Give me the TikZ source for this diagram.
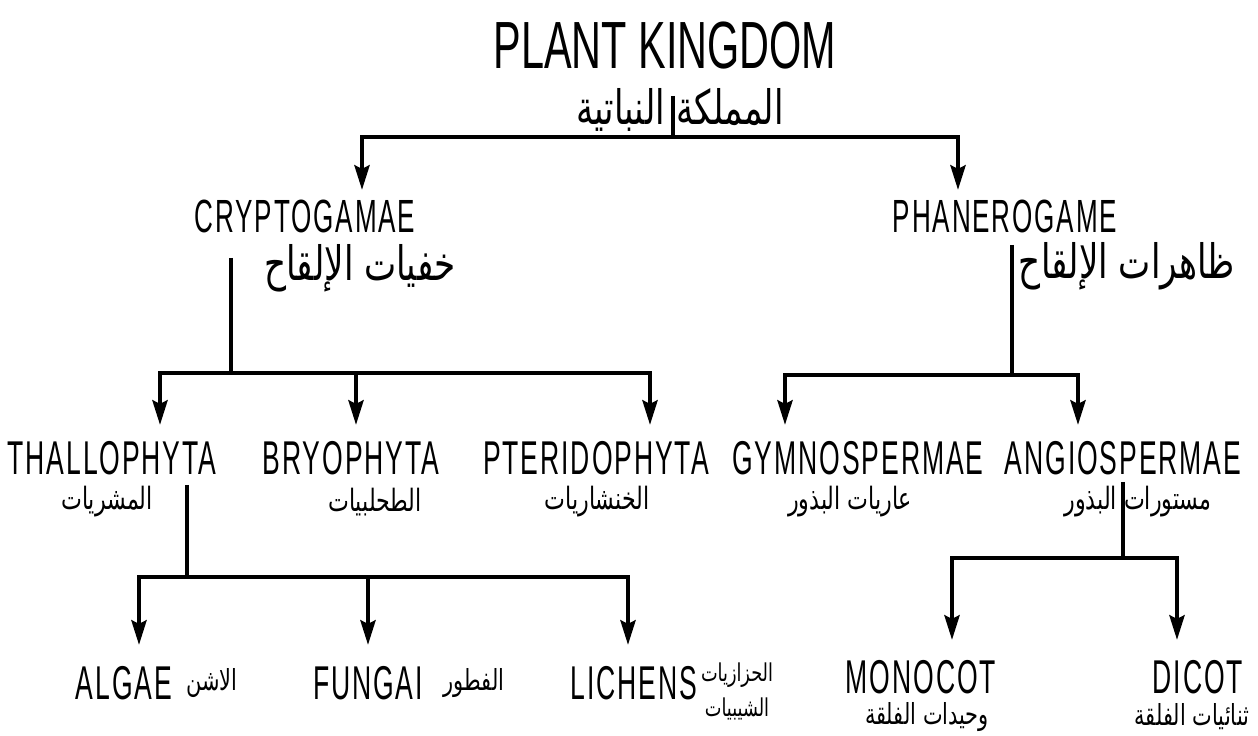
\documentclass[tikz,border=0pt]{standalone}
\usepackage{fontspec}
\usepackage{tikz}
\usetikzlibrary{arrows.meta,positioning}
\TeXXeTstate=1
\newfontfamily\ttlfont[FakeStretch=0.62]{Liberation Sans}
\newfontfamily\latfont[FakeStretch=0.56,LetterSpace=4]{Liberation Sans}
\newfontfamily\arabicfont[Script=Arabic,FakeStretch=0.72]{DejaVu Sans}
\tikzset{
  ttl/.style={font=\ttlfont\fontsize{38}{40}\selectfont,inner sep=0pt},
  lat/.style={font=\latfont\fontsize{26.5}{28}\selectfont,inner sep=0pt},
  latbig/.style={font=\latfont\fontsize{27}{29}\selectfont,inner sep=0pt},
  arbbig/.style={font=\arabicfont\fontsize{27}{29}\selectfont,inner sep=0pt},
  arb/.style={font=\arabicfont\fontsize{17.5}{19}\selectfont,inner sep=0pt},
  arbsmall/.style={font=\arabicfont\fontsize{16.5}{18}\selectfont,inner sep=0pt},
  arbtiny/.style={font=\arabicfont\fontsize{14}{15}\selectfont,inner sep=0pt,
                  text height=10pt,text depth=3pt},
  stem/.style={line width=2.5pt},
  arr/.style={line width=2.5pt,-{Stealth[length=14pt,width=8.5pt,inset=2pt]}},
}
\begin{document}
\begin{tikzpicture}[x=0.02cm,y=-0.02cm]
  \useasboundingbox (0,0) rectangle (1258,736);
  % top level
  \node[ttl](title) at (665,46) {PLANT KINGDOM};
  \node[arbbig](titlear) at (680,110) {\beginR المملكة النباتية\endR};
  \node[lat](crypto) at (305,216) {CRYPTOGAMAE};
  \node[arbbig](cryptoar) at (360,268) {\beginR خفيات الإلقاح\endR};
  \node[lat](phanero) at (1005,216) {PHANEROGAME};
  \node[arbbig](phaneroar) at (1127,266) {\beginR ظاهرات الإلقاح\endR};
  % divisions
  \node[latbig](thallo) at (112,458) {THALLOPHYTA};
  \node[latbig](bryo)   at (351,458) {BRYOPHYTA};
  \node[latbig](pterido)at (596,458) {PTERIDOPHYTA};
  \node[latbig](gymno)  at (858,458) {GYMNOSPERMAE};
  \node[latbig](angio)  at (1123,458){ANGIOSPERMAE};
  \node[arb](thalloar) at (107,502) {\beginR المشريات\endR};
  \node[arb](bryoar)   at (375,502) {\beginR الطحلبيات\endR};
  \node[arb](pteridoar)at (597,502) {\beginR الخنشاريات\endR};
  \node[arb](gymnoar)  at (850,502) {\beginR عاريات البذور\endR};
  \node[arb](angioar)  at (1138,502){\beginR مستورات البذور\endR};
  % lower groups
  \node[latbig](algae)   at (124,683) {ALGAE};
  \node[arbsmall](algaear) at (212,683) {\beginR الاشن\endR};
  \node[latbig](fungai)  at (368,683) {FUNGAI};
  \node[arbsmall](fungaiar)at (474,683) {\beginR الفطور\endR};
  \node[latbig](lichens) at (634,683) {LICHENS};
  \node[arbtiny](lichensar)  at (737,675) {\beginR الحزازيات\endR};
  \node[arbtiny](lichensar2) at (737,710) {\beginR الشيبيات\endR};
  \node[latbig](monocot) at (921,677) {MONOCOT};
  \node[arbsmall](monocotar)  at (927,717) {\beginR وحيدات الفلقة\endR};
  \node[latbig](dicot)   at (1198,677){DICOT};
  \node[arbsmall](dicotar)    at (1192,717){\beginR ثنائيات الفلقة\endR};
  % junctions
  \coordinate (ktop) at (673,96);   \coordinate (kbar) at (673,137);
  \coordinate (cryin) at (362,190); \coordinate (phain) at (958,190);
  \coordinate (ctop) at (231,258);  \coordinate (cbar) at (231,373);
  \coordinate (thalin) at (160,425);\coordinate (bryin) at (356,425);
  \coordinate (ptein) at (650,425);
  \coordinate (ptop) at (1012,245); \coordinate (pbar) at (1012,375);
  \coordinate (gymin) at (785,425); \coordinate (angin) at (1078,425);
  \coordinate (ttop) at (187,485);  \coordinate (tbar) at (187,577);
  \coordinate (algin) at (139,645); \coordinate (funin) at (368,645);
  \coordinate (lichin) at (628,645);
  \coordinate (atop) at (1123,482); \coordinate (abar) at (1123,558);
  \coordinate (monin) at (952,640); \coordinate (dicin) at (1177,640);
  % connectors
  \draw[stem](ktop) -- (kbar);
  \draw[arr](kbar) -| (cryin);
  \draw[arr](kbar) -| (phain);
  \draw[stem](ctop) -- (cbar);
  \draw[arr](cbar) -| (thalin);
  \draw[arr](cbar) -| (bryin);
  \draw[arr](cbar) -| (ptein);
  \draw[stem](ptop) -- (pbar);
  \draw[arr](pbar) -| (gymin);
  \draw[arr](pbar) -| (angin);
  \draw[stem](ttop) -- (tbar);
  \draw[arr](tbar) -| (algin);
  \draw[arr](tbar) -| (funin);
  \draw[arr](tbar) -| (lichin);
  \draw[stem](atop) -- (abar);
  \draw[arr](abar) -| (monin);
  \draw[arr](abar) -| (dicin);
\end{tikzpicture}
\end{document}
